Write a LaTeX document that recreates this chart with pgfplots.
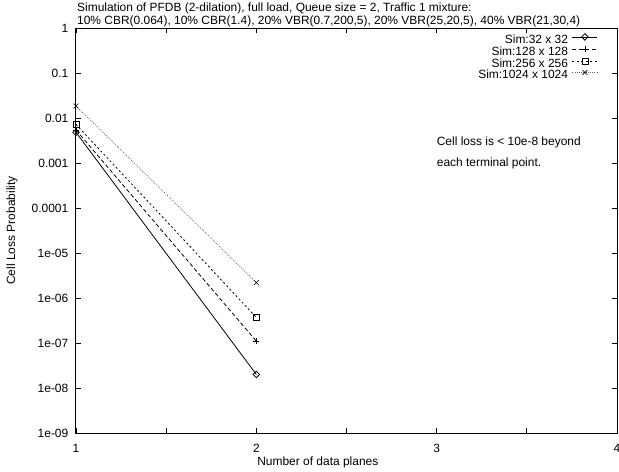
\documentclass[border=0pt]{standalone}
\usepackage{fontspec}
\setmainfont{Liberation Sans}
\usepackage{pgfplots}
\pgfplotsset{compat=1.18}
\begin{document}
\fontsize{12}{14}\selectfont
\begin{tikzpicture}
\begin{axis}[
  scale only axis, width=541bp, height=405bp,
  ymode=log, xmin=1, xmax=4, ymin=1e-9, ymax=1,
  clip=false,
  xtick={1,2,3,4}, xticklabels={1,2,3,4},
  minor xtick={1.5,2.5,3.5},
  ytick={1e-9,1e-8,1e-7,1e-6,1e-5,1e-4,1e-3,1e-2,1e-1,1},
  yticklabels={1e-09,1e-08,1e-07,1e-06,1e-05,0.0001,0.001,0.01,0.1,1},
  yminorticks=false,
  /pgf/number format/assume math mode=true,
  tick align=inside, major tick length=5bp, minor tick length=5bp,
  axis line style={line width=1bp},
  every tick/.style={black, line width=0.8bp},
  xticklabel style={inner sep=0pt, anchor=north, yshift=-11bp, font=\fontsize{12}{14}\selectfont},
  yticklabel style={inner sep=0pt, anchor=east, xshift=-7.5bp, font=\fontsize{12}{14}\selectfont},
  xlabel={Number of data planes}, ylabel={Cell Loss Probability},
  xlabel style={at={(axis description cs:0.447,-0.0593)}, anchor=north, inner sep=0pt, font=\fontsize{12}{14}\selectfont},
  ylabel style={at={(axis description cs:-0.1183,0.5)}, anchor=center, inner sep=0pt, font=\fontsize{12}{14}\selectfont},
  legend cell align=right,
  legend plot pos=right,
  legend style={at={(axis description cs:1,1)}, anchor=north east, xshift=-19bp, yshift=-5.5bp,
    draw=none, fill=none, inner sep=0pt, row sep=0pt, column sep=4bp,
    nodes={inner sep=0pt, text height=8.5bp, text depth=2.5bp, font=\fontsize{12}{14}\selectfont}},
  legend image code/.code={\draw[mark repeat=2,mark phase=2,#1] plot coordinates {(0bp,3.5bp) (12.5bp,3.5bp) (25bp,3.5bp)};},
]
\addplot[black, line width=0.8bp, mark=square, mark size=2.3bp, mark options={rotate=45, solid}]
  coordinates {(1,0.0048) (2,2.0e-8)};
\addlegendentry{Sim:32 x 32}
\addplot[black, line width=0.8bp, dash pattern=on 4bp off 2.5bp, mark=+, mark size=3bp, mark options={solid}]
  coordinates {(1,0.0054) (2,1.1e-7)};
\addlegendentry{Sim:128 x 128}
\addplot[black, line width=0.8bp, dash pattern=on 2bp off 2.5bp, mark=square, mark size=3bp, mark options={solid}]
  coordinates {(1,0.0072) (2,3.7e-7)};
\addlegendentry{Sim:256 x 256}
\addplot[black!65, line width=0.6bp, dash pattern=on 1bp off 1.2bp, mark=x, mark size=3.5bp, mark options={solid, black}]
  coordinates {(1,0.0185) (2,2.2e-6)};
\addlegendentry{Sim:1024 x 1024}
\node[anchor=base west, inner sep=0pt, xshift=1bp, yshift=17bp] at (axis description cs:0,1)
  {Simulation of PFDB (2-dilation), full load, Queue size = 2, Traffic 1 mixture:};
\node[anchor=base west, inner sep=0pt, xshift=1bp, yshift=3.5bp] at (axis description cs:0,1)
  {10\% CBR(0.064), 10\% CBR(1.4), 20\% VBR(0.7,200,5), 20\% VBR(25,20,5), 40\% VBR(21,30,4)};
\node[anchor=west, inner sep=0pt] at (axis cs:3,0.0028) {Cell loss is < 10e-8 beyond};
\node[anchor=west, inner sep=0pt] at (axis cs:3,0.001) {each terminal point.};
\end{axis}
\pgfresetboundingbox
\path[use as bounding box] ([shift={(-76bp,-39bp)}]current axis.south west) rectangle ([shift={(2bp,28bp)}]current axis.north east);
\end{tikzpicture}
\end{document}
